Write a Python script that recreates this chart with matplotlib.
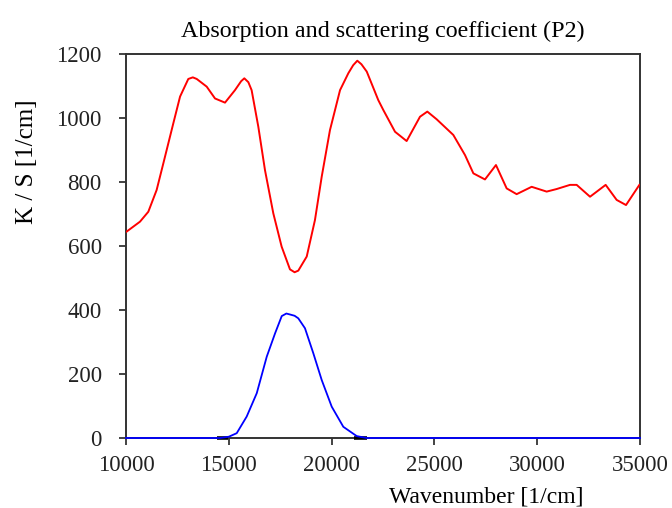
import matplotlib
matplotlib.use('Agg')
import matplotlib.pyplot as plt

# K curve (red)
k_x = [10030, 10680, 11085, 11490, 11815, 12300, 12630, 13030, 13250, 13440, 13925,
       14330, 14815, 15300, 15600, 15755, 15950, 16110, 16435, 16760, 17165, 17570, 17975,
       18200, 18380, 18790, 19190, 19520, 19920, 20410, 20815, 21050, 21250, 21450, 21710, 22270,
       22515, 23085, 23650, 24300, 24655, 25110, 25920, 26490, 26895, 27460,
       27995, 28515, 29000, 29730, 30460, 30945, 31595, 31920, 32570, 33330,
       33865, 34320, 34970]
k_y = [645, 676, 707, 775, 858, 983, 1067, 1122, 1127, 1122, 1098,
       1061, 1048, 1087, 1115, 1124, 1112, 1087, 973, 837, 702, 598, 527,
       518, 523, 567, 681, 817, 962, 1087, 1140, 1165, 1179, 1168, 1145, 1056,
       1025, 957, 928, 1004, 1020, 996, 947, 884, 827, 808,
       853, 780, 762, 785, 770, 778, 791, 791, 754, 791,
       744, 728, 791]

# S curve (blue)
s_x = [10000, 14570, 15000, 15385, 15870, 16360, 16845, 17250, 17575, 17800, 17975, 18200, 18380,
       18705, 19110, 19520, 20005, 20570, 21220, 21700, 35000]
s_y = [0, 0, 4, 15, 67, 140, 254, 327, 381, 389, 386, 382, 374,
       343, 265, 181, 98, 35, 6, 0, 0]

# short black pieces on the baseline at both feet of the blue peak
b_x = [14450, 14950, float('nan'), 21100, 21700]
b_y = [0, 0, float('nan'), 0, 0]

plt.rcParams['font.family'] = 'Liberation Serif'

fig = plt.figure(figsize=(6.72, 5.08), dpi=100)
ax = fig.add_axes([126/672, 1-438/508, 514/672, 384/508])

ax.plot(b_x, b_y, color='black', lw=2.6, solid_capstyle='butt', zorder=3, clip_on=False)
ax.plot(s_x, s_y, color='blue', lw=1.3, zorder=4, clip_on=False)
ax.plot(k_x, k_y, color='red', lw=1.4, zorder=4)

ax.set_xlim(10000, 35000)
ax.set_ylim(0, 1200)
ax.set_xticks(range(10000, 35001, 5000))
ax.set_yticks(range(0, 1201, 200))
ax.tick_params(direction='out', length=5, width=1.2, labelsize=16.5, colors='#222222')
ax.tick_params(axis='x', pad=7)
ax.tick_params(axis='y', pad=12.5)
for s in ax.spines.values():
    s.set_linewidth(1.4)
    s.set_color('#333333')

ax.set_title('Absorption and scattering coefficient (P2)', fontsize=17.3, pad=12)
ax.set_ylabel('K / S [1/cm]', fontsize=18)
ax.yaxis.set_label_coords(-0.171, 0.72)
ax.set_xlabel('Wavenumber [1/cm]', fontsize=17)
ax.xaxis.set_label_coords(0.70, -0.125)

fig.savefig('out.png', dpi=100)
